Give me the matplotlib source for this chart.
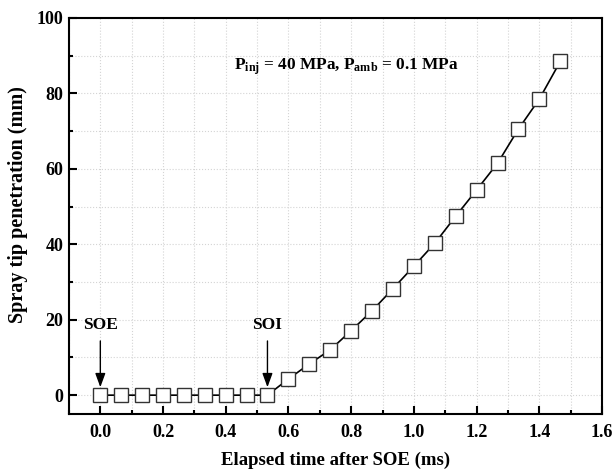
import numpy as np
import matplotlib
matplotlib.use("Agg")
import matplotlib.pyplot as plt
from matplotlib.ticker import MultipleLocator

# elapsed time after SOE (ms), one frame every 1/15 ms
time_ms = [0.0, 0.067, 0.133, 0.2, 0.267, 0.333, 0.4, 0.467, 0.533,
           0.6, 0.667, 0.733, 0.8, 0.867, 0.933, 1.0, 1.067, 1.133,
           1.2, 1.267, 1.333, 1.4, 1.467]
# spray tip penetration (mm)
penetration = [0, 0, 0, 0, 0, 0, 0, 0, 0,
               4.3, 8.3, 12.0, 17.1, 22.4, 28.2, 34.2, 40.3, 47.4,
               54.4, 61.5, 70.5, 78.5, 88.5]

events = ["SOE", "SOI"]
event_times = [0.0, 0.533]

plt.rcParams['font.family'] = ['Liberation Serif', 'DejaVu Serif']
plt.rcParams['font.weight'] = 'bold'
plt.rcParams['mathtext.fontset'] = 'custom'
plt.rcParams['mathtext.rm'] = 'Liberation Serif:bold'
plt.rcParams['mathtext.it'] = 'Liberation Serif:bold'
plt.rcParams['mathtext.bf'] = 'Liberation Serif:bold'

fig = plt.figure(figsize=(6.12, 4.73), dpi=100)
ax = fig.add_axes([0.1127, 0.1247, 0.871, 0.8373])

ax.plot(time_ms, penetration, color='black', lw=1.2, marker='s', ms=9.5,
        mfc='white', mec='#333333', mew=1.0, zorder=3)

ax.set_xlim(-0.1, 1.6)
ax.set_ylim(-5, 100)
ax.xaxis.set_major_locator(MultipleLocator(0.2))
ax.xaxis.set_minor_locator(MultipleLocator(0.1))
ax.yaxis.set_major_locator(MultipleLocator(20))
ax.yaxis.set_minor_locator(MultipleLocator(10))
ax.xaxis.set_major_formatter(plt.FuncFormatter(lambda v, p: f"{v:.1f}"))

ax.grid(True, which='both', color='#d4d4d4', ls=':', lw=0.8)
ax.set_axisbelow(True)

ax.tick_params(which='both', direction='in', top=False, right=False,
               width=1.5, labelsize=13)
ax.tick_params(which='major', length=6)
ax.tick_params(which='minor', length=3)
ax.tick_params(axis='x', which='major', pad=7)
ax.tick_params(axis='y', which='major', pad=4)
for s in ax.spines.values():
    s.set_linewidth(1.5)
for lab in ax.get_xticklabels() + ax.get_yticklabels():
    lab.set_fontweight('bold')

ax.set_xlabel('Elapsed time after SOE (ms)', fontsize=13.5, fontweight='bold', labelpad=8)
ax.set_ylabel('Spray tip penetration (mm)', fontsize=14.5, fontweight='bold',
              va='center', ha='center')
ax.yaxis.set_label_coords(-0.096, 0.53)

ax.text(0.785, 87.2, r'P$_{\mathrm{inj}}$ = 40 MPa, P$_{\mathrm{amb}}$ = 0.1 MPa',
        ha='center', va='center', fontsize=12.4, fontweight='bold')

for name, t in zip(events, event_times):
    ax.annotate(name, xy=(t, 2.1), xytext=(t, 18.7), ha='center', va='center',
                fontsize=12.5, fontweight='bold',
                arrowprops=dict(arrowstyle='-|>,head_length=0.6,head_width=0.22',
                                color='black', lw=1.0, mutation_scale=14,
                                shrinkA=4, shrinkB=0))

fig.savefig('out.png', dpi=100)
